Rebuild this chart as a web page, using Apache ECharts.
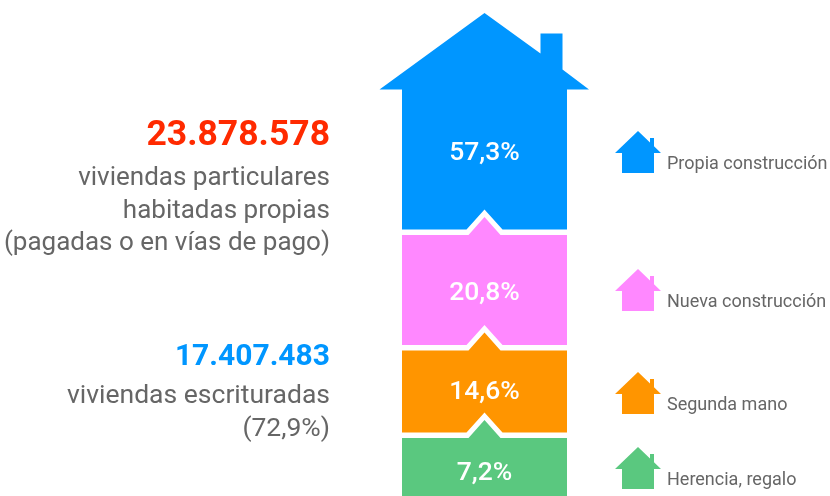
<!DOCTYPE html>
<html><head><meta charset="utf-8">
<style>html,body{margin:0;padding:0;background:#fff}#c{width:830px;height:496px}</style>
<script src="https://cdn.jsdelivr.net/npm/echarts@6/dist/echarts.min.js"></script>
</head><body><div id="c"></div>
<script>
// Top to bottom, as stacked in the house
const categories = ['Propia construcción', 'Nueva construcción', 'Segunda mano', 'Herencia, regalo'];
const shares = [57.3, 20.8, 14.6, 7.2];
// Height of each floor as drawn in the pictogram (not proportional to the share), on the hidden y axis
const floorHeights = [140, 110, 82, 58];
const floorGap = [5.5];
const totals = ['23.878.578', '17.407.483'];
const totalNotes = ['viviendas particulares\nhabitadas propias\n(pagadas o en vías de pago)', 'viviendas escrituradas\n(72,9%)'];

const colors = ['#0096FF', '#FF88FF', '#FF9500', '#5AC87F'];
const FONT = 'Roboto, sans-serif';
const HOUSE_ICON = 'path://M23 0L35 11.5V7H39V15.3L46 22H39V42H7V22H0Z';
const legendTop = [131, 269, 372, 447];
const labelShift = [-6, 3, 1, 6];

// floor bottoms, accumulated from the ground up
const bottoms = [];
let run = 0;
for (let i = floorHeights.length - 1; i >= 0; i--) { bottoms[i] = run; run += floorHeights[i] + floorGap[0]; }

function renderFloor(i) {
  return function (params, api) {
    const cx = api.coord([0, 0])[0];
    const half = api.size([1, 0])[0] / 2;
    const yB = api.coord([0, api.value(1)])[1];
    const yT = api.coord([0, api.value(2)])[1];
    const pts = [];
    // top edge
    if (i === 0) {
      pts.push([cx - half, yT], [cx - half - 22.5, yT], [cx, yT - 76.5],
        [cx + 56, yT - 36], [cx + 56, yT - 56], [cx + 78, yT - 56], [cx + 78, yT - 20], [cx + 104.5, yT], [cx + half, yT]);
    } else {
      pts.push([cx - half, yT], [cx - 16, yT], [cx, yT - 18], [cx + 16, yT], [cx + half, yT]);
    }
    // bottom edge
    if (i === categories.length - 1) {
      pts.push([cx + half, yB], [cx - half, yB]);
    } else {
      pts.push([cx + half, yB], [cx + 18, yB], [cx, yB - 20], [cx - 18, yB], [cx - half, yB]);
    }
    return {
      type: 'group',
      children: [
        { type: 'polygon', shape: { points: pts }, style: { fill: colors[i] } },
        { type: 'text', style: {
            text: String(api.value(3)).replace('.', ',') + '%',
            x: cx, y: (yB + yT) / 2 + labelShift[i],
            align: 'center', verticalAlign: 'middle',
            fill: '#fff', font: '500 26.5px ' + FONT } }
      ]
    };
  };
}

const option = {
  animation: false,
  backgroundColor: '#fff',
  grid: { left: 402, width: 165, top: 0, height: 496 },
  xAxis: { type: 'category', data: ['Viviendas'], show: false },
  yAxis: { type: 'value', min: 0, max: 496, show: false },
  title: [
    { text: totals[0], left: 330, textAlign: 'right', top: 118, padding: 0, textStyle: { fontFamily: FONT, fontWeight: 700, fontSize: 35.5, color: '#FF2A00' } },
    { text: totalNotes[0], left: 330, textAlign: 'right', top: 162.5, padding: 0, textStyle: { fontFamily: FONT, fontWeight: 400, fontSize: 26, lineHeight: 32.5, color: '#666' } },
    { text: totals[1], left: 330, textAlign: 'right', top: 342, padding: 0, textStyle: { fontFamily: FONT, fontWeight: 700, fontSize: 30, color: '#0096FF' } },
    { text: totalNotes[1], left: 330, textAlign: 'right', top: 380.5, padding: 0, textStyle: { fontFamily: FONT, fontWeight: 400, fontSize: 26.5, lineHeight: 32.5, color: '#666' } }
  ],
  legend: categories.map((name, i) => ({
    data: [{ name, icon: HOUSE_ICON }],
    left: 615, top: legendTop[i], padding: 0, orient: 'vertical',
    itemWidth: 46, itemHeight: 42, itemGap: 0, selectedMode: false,
    formatter: '{t|{name}}',
    textStyle: { rich: { t: { fontFamily: FONT, fontSize: 18, color: '#666', padding: [24, 0, 0, 1] } } }
  })),
  series: categories.map((name, i) => ({
    type: 'custom',
    name,
    coordinateSystem: 'cartesian2d',
    itemStyle: { color: colors[i] },
    renderItem: renderFloor(i),
    encode: { x: 0, y: 2 },
    data: [[0, bottoms[i], bottoms[i] + floorHeights[i], shares[i]]]
  }))
};
echarts.init(document.getElementById('c'), null, { renderer: 'canvas' }).setOption(option);
</script></body></html>
